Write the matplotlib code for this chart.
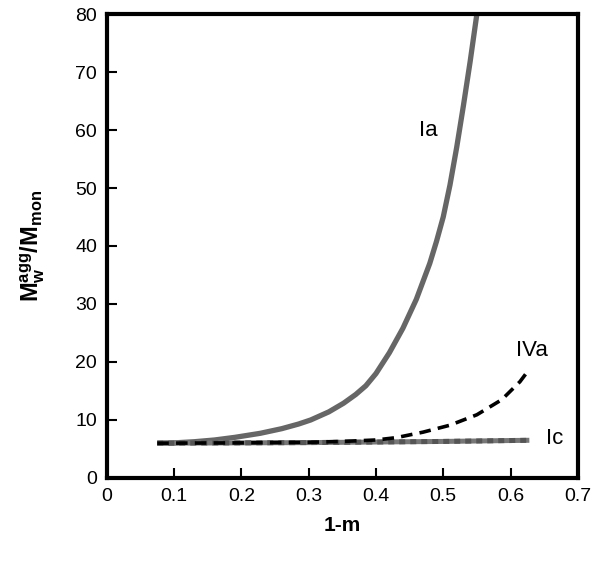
import matplotlib
matplotlib.use("Agg")
import matplotlib.pyplot as plt

plt.rcParams['font.family'] = ['Liberation Sans', 'DejaVu Sans']
plt.rcParams['mathtext.fontset'] = 'custom'
plt.rcParams['mathtext.rm'] = 'Liberation Sans'
plt.rcParams['mathtext.bf'] = 'Liberation Sans:bold'
plt.rcParams['mathtext.it'] = 'Liberation Sans:italic'

# curve Ia
ia_x = [0.075, 0.10, 0.13, 0.16, 0.19, 0.228, 0.26, 0.285, 0.303, 0.33, 0.352,
        0.37, 0.385, 0.40, 0.42, 0.44, 0.46, 0.48, 0.49, 0.50,
        0.51, 0.52, 0.53, 0.54, 0.55]
ia_y = [6.0, 6.05, 6.25, 6.55, 7.0, 7.7, 8.5, 9.3, 10.0, 11.4, 12.9,
        14.4, 15.9, 18.0, 21.6, 25.8, 30.8, 37.0, 40.8, 45.0,
        50.5, 57.0, 64.2, 71.8, 80.0]

# curve IVa
iva_x = [0.075, 0.2, 0.3, 0.35, 0.40, 0.43, 0.47, 0.51, 0.55, 0.587, 0.614, 0.625]
iva_y = [6.0, 6.05, 6.15, 6.3, 6.55, 6.95, 7.9, 9.1, 10.9, 13.5, 16.6, 18.3]

# curve Ic
ic_x = [0.075, 0.3, 0.5, 0.628]
ic_y = [6.0, 6.1, 6.3, 6.5]

fig = plt.figure(figsize=(6, 5.61), dpi=100)
ax = fig.add_axes([0.178, 0.148, 0.785, 0.827])

ax.plot(ia_x, ia_y, color='#666666', lw=3.8, solid_capstyle='butt',
        solid_joinstyle='round')
ax.plot(ic_x, ic_y, color='#777777', lw=3.6, solid_capstyle='butt')
ax.plot(ic_x, ic_y, color='#555555', lw=3.6, ls=(0, (1.2, 1.0)))
ax.plot(iva_x, iva_y, color='black', lw=2.6, ls=(0, (3.2, 2.0)))

ax.text(0.478, 60, 'Ia', fontsize=16, ha='center', va='center')
ax.text(0.632, 22, 'IVa', fontsize=16, ha='center', va='center')
ax.text(0.665, 6.8, 'Ic', fontsize=16, ha='center', va='center')

ax.set_xlim(0, 0.7)
ax.set_ylim(0, 80)
ax.set_xticks([0, 0.1, 0.2, 0.3, 0.4, 0.5, 0.6, 0.7])
ax.set_xticklabels(['0', '0.1', '0.2', '0.3', '0.4', '0.5', '0.6', '0.7'])
ax.set_yticks(range(0, 81, 10))
ax.tick_params(direction='in', length=7, width=1.5, labelsize=14, pad=7)

for s in ax.spines.values():
    s.set_linewidth(3)

ax.set_xlabel('1-m', fontsize=15, fontweight='bold', labelpad=8)
ax.set_ylabel(r'$\mathbf{M_w^{agg}/M_{mon}}$', fontsize=17, labelpad=20)

fig.savefig('out.png', dpi=100)
